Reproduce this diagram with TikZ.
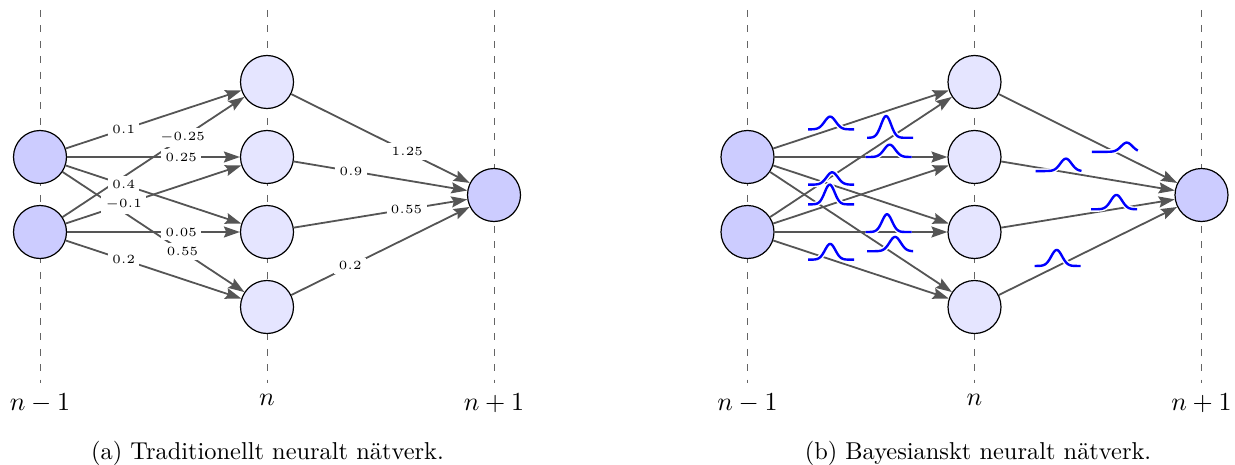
\documentclass[tikz,border=0pt]{standalone}
\usepackage{graphicx}
\usetikzlibrary{arrows.meta}
\definecolor{edgegray}{RGB}{85,85,85}
\definecolor{dashgray}{RGB}{100,100,100}
\newcommand\scl[1]{\scalebox{1.25}{#1}}
\newcommand\sclL[1]{\scalebox{1.3}{#1}}
\newcommand\sclC[1]{\scalebox{1.22}{#1}}
\tikzset{
  inp/.style={circle, draw=black, line width=0.6pt, fill=blue!20, minimum size=26.5pt, inner sep=0pt},
  hid/.style={inp, fill=blue!10},
  edge/.style={draw=edgegray, line width=0.9pt, -{Stealth[length=8pt,width=5.5pt,inset=1.2pt]}},
  dashline/.style={draw=dashgray, line width=0.5pt, dash pattern=on 3.5pt off 4.2pt},
  layerlab/.style={anchor=north, inner sep=0pt},
  wlab/.style={fill=white, inner sep=2.2pt, font=\tiny},
  bumpline/.style={draw=blue, line width=1.2pt, preaction={draw=white, line width=2.6pt}},
  captxt/.style={anchor=base, inner sep=0pt, font=\normalsize},
  pics/bump/.style args={#1/#2/#3}{code={
    \path[bumpline] plot[domain=-11.5:11.5, samples=60, smooth]
      ({\x*1pt},{(#1)*exp(-((\x-(#2))^2)/(2*(#3)^2))*1pt});
  }}
}
\begin{document}
\begin{tikzpicture}[x=0.5pt, y=-0.5pt]
\useasboundingbox (0,0) rectangle (1235,465);

% ================= (a) =================
\coordinate (ta1) at (40,10);  \coordinate (ba1) at (40,383);
\coordinate (ta2) at (267,10); \coordinate (ba2) at (267,383);
\coordinate (ta3) at (494,10); \coordinate (ba3) at (494,383);
\draw[dashline] (ta1) -- (ba1);
\draw[dashline] (ta2) -- (ba2);
\draw[dashline] (ta3) -- (ba3);
\node[layerlab] (la1) at (40,393.5) {\sclL{$n-1$}};
\node[layerlab] (la2) at (267,393.5) {\sclL{$n$}};
\node[layerlab] (la3) at (494,393.5) {\sclL{$n+1$}};

\node[inp] (a1) at (40,157) {};
\node[inp] (a2) at (40,232) {};
\node[hid] (ah1) at (267,82) {};
\node[hid] (ah2) at (267,157) {};
\node[hid] (ah3) at (267,232) {};
\node[hid] (ah4) at (267,307) {};
\node[inp] (ao) at (494,195) {};

\draw[edge] (a1) -- coordinate[pos=0.33] (w11) (ah1);
\draw[edge] (a1) -- coordinate[pos=0.66] (w12) (ah2);
\draw[edge] (a1) -- coordinate[pos=0.33] (w13) (ah3);
\draw[edge] (a1) -- coordinate[pos=0.66] (w14) (ah4);
\draw[edge] (a2) -- coordinate[pos=0.66] (w21) (ah1);
\draw[edge] (a2) -- coordinate[pos=0.33] (w22) (ah2);
\draw[edge] (a2) -- coordinate[pos=0.66] (w23) (ah3);
\draw[edge] (a2) -- coordinate[pos=0.33] (w24) (ah4);
\draw[edge] (ah1) -- coordinate[pos=0.65] (wo1) (ao);
\draw[edge] (ah2) -- coordinate[pos=0.33] (wo2) (ao);
\draw[edge] (ah3) -- coordinate[pos=0.65] (wo3) (ao);
\draw[edge] (ah4) -- coordinate[pos=0.33] (wo4) (ao);

\node[wlab] (lw11) at (w11) {\scl{$0.1$}};
\node[wlab] (lw12) at (w12) {\scl{$0.25$}};
\node[wlab] (lw13) at (w13) {\scl{$0.4$}};
\node[wlab] (lw14) at (w14) {\scl{$0.55$}};
\node[wlab] (lw21) at (w21) {\scl{$-0.25$}};
\node[wlab] (lw22) at (w22) {\scl{$-0.1$}};
\node[wlab] (lw23) at (w23) {\scl{$0.05$}};
\node[wlab] (lw24) at (w24) {\scl{$0.2$}};
\node[wlab] (lwo1) at (wo1) {\scl{$1.25$}};
\node[wlab] (lwo2) at (wo2) {\scl{$0.9$}};
\node[wlab] (lwo3) at (wo3) {\scl{$0.55$}};
\node[wlab] (lwo4) at (wo4) {\scl{$0.2$}};

\node[captxt] (capa) at (267.5,459) {\sclC{(a) Traditionellt neuralt nätverk.}};

% ================= (b) =================
\coordinate (tb1) at (747.5,10);  \coordinate (bb1) at (747.5,383);
\coordinate (tb2) at (974.5,10);  \coordinate (bb2) at (974.5,383);
\coordinate (tb3) at (1201.5,10); \coordinate (bb3) at (1201.5,383);
\draw[dashline] (tb1) -- (bb1);
\draw[dashline] (tb2) -- (bb2);
\draw[dashline] (tb3) -- (bb3);
\node[layerlab] (lb1) at (747.5,393.5) {\sclL{$n-1$}};
\node[layerlab] (lb2) at (974.5,393.5) {\sclL{$n$}};
\node[layerlab] (lb3) at (1201.5,393.5) {\sclL{$n+1$}};

\node[inp] (b1) at (747.5,157) {};
\node[inp] (b2) at (747.5,232) {};
\node[hid] (bh1) at (974.5,82) {};
\node[hid] (bh2) at (974.5,157) {};
\node[hid] (bh3) at (974.5,232) {};
\node[hid] (bh4) at (974.5,307) {};
\node[inp] (bo) at (1201.5,195) {};

\draw[edge] (b1) -- coordinate[pos=0.33] (v11) (bh1);
\draw[edge] (b1) -- coordinate[pos=0.66] (v12) (bh2);
\draw[edge] (b1) -- coordinate[pos=0.33] (v13) (bh3);
\draw[edge] (b1) -- coordinate[pos=0.66] (v14) (bh4);
\draw[edge] (b2) -- coordinate[pos=0.66] (v21) (bh1);
\draw[edge] (b2) -- coordinate[pos=0.33] (v22) (bh2);
\draw[edge] (b2) -- coordinate[pos=0.66] (v23) (bh3);
\draw[edge] (b2) -- coordinate[pos=0.33] (v24) (bh4);
\draw[edge] (bh1) -- coordinate[pos=0.65] (vo1) (bo);
\draw[edge] (bh2) -- coordinate[pos=0.33] (vo2) (bo);
\draw[edge] (bh3) -- coordinate[pos=0.65] (vo3) (bo);
\draw[edge] (bh4) -- coordinate[pos=0.33] (vo4) (bo);

\pic at (v11) {bump=6.35/-0.5/2.8};
\pic at (v12) {bump=6.15/0.5/2.8};
\pic at (v13) {bump=6.15/0.5/2.8};
\pic at (v14) {bump=7.15/2.5/2.8};
\pic at (v21) {bump=10.85/-2/2.5};
\pic at (v22) {bump=9.85/-0.75/2.5};
\pic at (v23) {bump=8.85/-0.8/2.5};
\pic at (v24) {bump=7.85/-0.5/2.6};
\pic at (vo1) {bump=4.6/6/2.8};
\pic at (vo2) {bump=6.2/3.7/2.8};
\pic at (vo3) {bump=7.15/1.2/2.8};
\pic at (vo4) {bump=8/-0.5/2.7};

\node[captxt] (capb) at (978,459) {\sclC{(b) Bayesianskt neuralt nätverk.}};
\end{tikzpicture}
\end{document}
